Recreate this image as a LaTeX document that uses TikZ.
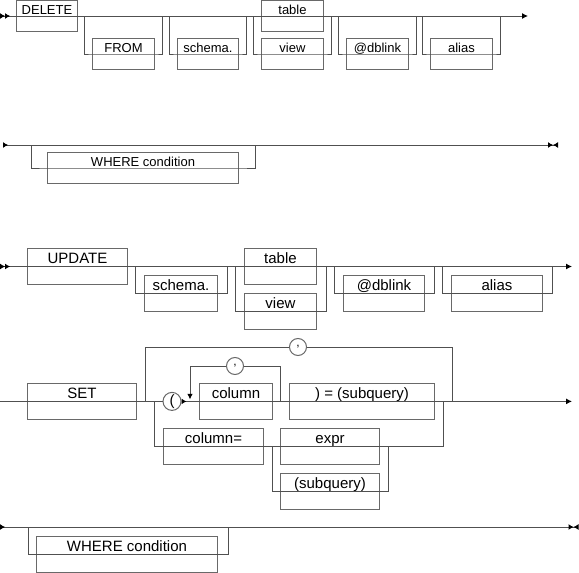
\documentclass[tikz,border=0pt]{standalone}
\usepackage{fontspec}
\setmainfont{Liberation Sans}
\usepackage{tikz}
\usetikzlibrary{arrows.meta,calc}
\definecolor{railgray}{RGB}{80,80,80}
\definecolor{boxgray}{RGB}{105,105,105}
\tikzset{
  tipin/.tip={Latex[reversed,length=5pt,width=6pt,black]},
  tipout/.tip={Latex[length=6pt,width=6pt,black]},
  tipstop/.tip={Latex[length=5pt,width=6pt,black]},
  tipback/.tip={Latex[reversed,length=5pt,width=6pt,black]}
}

\begin{document}
\begin{tikzpicture}[x=1pt,y=-1pt,
  rail/.style={draw=railgray,line width=1pt},
  kwsmall/.style={draw=boxgray,line width=1pt,anchor=north west,inner sep=0pt,
                  font=\fontsize{13}{15}\selectfont,text height=13.5pt,text depth=17.5pt},
  kwbig/.style={draw=boxgray,line width=1pt,anchor=north west,inner sep=0pt,
                font=\fontsize{15}{18}\selectfont,text height=15pt,text depth=21pt},
  sym/.style={draw=boxgray,fill=white,circle,line width=1pt,inner sep=0pt,minimum size=18pt}]
  \useasboundingbox (0,0) rectangle (579,573);
  % DELETE
  \coordinate (d1s) at (0,16);
  \coordinate (d1e) at (528,16);
  \node[kwsmall,minimum width=61] (del) at (16,0) {DELETE};
  \node[kwsmall,minimum width=62] (from) at (92,38) {FROM};
  \node[kwsmall,minimum width=61] (schA) at (177,38) {schema.};
  \node[kwsmall,minimum width=62] (tblA) at (261,0) {table};
  \node[kwsmall,minimum width=62] (viewA) at (261,38) {view};
  \node[kwsmall,minimum width=62] (dblA) at (346,38) {@dblink};
  \node[kwsmall,minimum width=62] (aliasA) at (430,38) {alias};
  \draw[rail,{tipin[]tipin[]}-{tipout[]}] (d1s) -- (d1e);
  \foreach \n in {from,schA,viewA,dblA,aliasA}
    \draw[rail] ([xshift=-7.5pt]\n.west |- d1s) |- (\n.west) -- (\n.east) -| ([xshift=7.5pt]\n.east |- d1s);
  % WHERE
  \coordinate (d2s) at (3,145);
  \coordinate (d2e) at (558,145);
  \node[kwsmall,minimum width=191] (whereA) at (47,152) {WHERE condition};
  \draw[rail,{tipin[]}-{tipstop[]tipback[]}] (d2s) -- (d2e);
  \draw[rail] ([xshift=-16pt]whereA.west |- d2s) |- (whereA.west) -- (whereA.east) -| ([xshift=16pt]whereA.east |- d2s);
  % UPDATE
  \coordinate (d3s) at (0,266.5);
  \coordinate (d3e) at (572,266.5);
  \node[kwbig,minimum width=100] (upd) at (27,248) {UPDATE};
  \node[kwbig,minimum width=73] (schB) at (144,275) {schema.};
  \node[kwbig,minimum width=72] (tblB) at (244,248) {table};
  \node[kwbig,minimum width=72] (viewB) at (244,293) {view};
  \node[kwbig,minimum width=81] (dblB) at (343,275) {@dblink};
  \node[kwbig,minimum width=91] (aliasB) at (451,275) {alias};
  \draw[rail,{tipin[]tipin[]}-{tipout[]}] (d3s) -- (d3e);
  \foreach \n in {schB,viewB,dblB,aliasB}
    \draw[rail] ([xshift=-9pt]\n.west |- d3s) |- (\n.west) -- (\n.east) -| ([xshift=9pt]\n.east |- d3s);
  % SET
  \coordinate (d4s) at (0,401.4);
  \coordinate (d4e) at (572,401.4);
  \node[kwbig,minimum width=109] (set) at (27,383) {SET};
  \node[sym,font=\fontsize{15}{18}\selectfont] (paren) at (172,401.4) {(};
  \node[kwbig,minimum width=73] (col) at (199,383) {column};
  \node[kwbig,minimum width=145] (eqsub) at (289,383) {) = (subquery)};
  \node[kwbig,minimum width=100] (coleq) at (163,428) {column=};
  \node[kwbig,minimum width=99] (expr) at (280,428) {expr};
  \node[kwbig,minimum width=99] (subq) at (280,473) {(subquery)};
  \node[sym,minimum size=17pt,font=\fontsize{12}{12}\selectfont] (c1) at (235,366) {,};
  \node[sym,minimum size=17pt,font=\fontsize{12}{12}\selectfont] (c2) at (298,347) {,};
  \coordinate (loopL) at (145,401.4);
  \coordinate (loopR) at (452,401.4);
  \coordinate (altL) at (154,401.4);
  \coordinate (altR) at (443,401.4);
  \coordinate (inR) at (280,401.4);
  \coordinate (inL) at (190,401.4);
  \coordinate (subL) at (272,446.4);
  \coordinate (subR) at (388,446.4);
  \draw[rail,{tipin[]}-{tipout[]}] (d4s) -- (paren) -- (d4e);
  \draw[rail] (loopL) |- (c2) -| (loopR);
  \draw[rail] (altL) |- (coleq.west) -- (coleq.east) -| (altR);
  \draw[rail] (subL) |- (subq.west) -- (subq.east) -| (subR);
  \draw[rail,-{Latex[length=5.5pt,width=5.5pt,black]},shorten >=2pt] (inR) |- (c1) -| (inL);
  % WHERE
  \coordinate (d5s) at (0,527);
  \coordinate (d5e) at (578.5,527);
  \node[kwbig,minimum width=181] (whereB) at (36,536) {WHERE condition};
  \draw[rail,{tipin[]}-{tipstop[]tipback[]}] (d5s) -- (d5e);
  \draw[rail] ([xshift=-8pt]whereB.west |- d5s) |- (whereB.west) -- (whereB.east) -| ([xshift=10pt]whereB.east |- d5s);
\end{tikzpicture}
\end{document}
